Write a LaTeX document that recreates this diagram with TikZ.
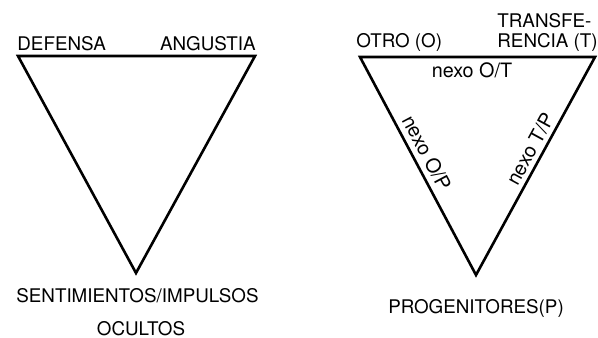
\documentclass[tikz,border=0pt]{standalone}
\usepackage{fontspec}
\setmainfont{TeX Gyre Heros}
\tikzset{%
    edg/.style={line width = 1.3pt, line join=miter},
    lbl/.style={inner sep=0pt, font=\fontsize{9.4}{11}\selectfont},
    nex/.style={inner sep=0pt, font=\fontsize{9.9}{12}\selectfont},
}

\begin{document}
\begin{tikzpicture}[x=0.5pt, y=-0.5pt]
    \useasboundingbox (0,0) rectangle (598,337);
    % left triangle
    \coordinate (def) at (18,56);
    \coordinate (ang) at (255,56);
    \coordinate (sen) at (136,273);
    \draw [edg] (def) -- (ang) -- (sen) -- cycle;
    \node [lbl, anchor=base west] (ldef) at (17,50) {DEFENSA};
    \node [lbl, anchor=base east] (lang) at (256,50) {ANGUSTIA};
    \node [lbl, anchor=base] (lsen) at (137.5,302) {SENTIMIENTOS/IMPULSOS};
    \node [lbl, anchor=base] (locu) at (141,335) {OCULTOS};
    % right triangle
    \coordinate (o) at (360,57);
    \coordinate (t) at (595,57);
    \coordinate (p) at (476,275);
    \draw [edg] (o) -- (t) -- (p) -- cycle;
    \node [lbl, anchor=base west] (lo) at (356,47) {OTRO (O)};
    \node [lbl, anchor=base west] (ltr) at (497,27) {TRANSFE-};
    \node [lbl, anchor=base west] (lre) at (497,47) {RENCIA (T)};
    \node [lbl, anchor=base] (lp) at (476,313) {PROGENITORES(P)};
    \node [nex, anchor=base] (lot) at (472,77) {nexo O/T};
    \path (o) -- node [nex, pos=0.47, sloped, above=3pt] (lop) {nexo O/P} (p);
    \path (p) -- node [nex, pos=0.55, sloped, above=2.5pt] (ltp) {nexo T/P} (t);
\end{tikzpicture}
\end{document}
